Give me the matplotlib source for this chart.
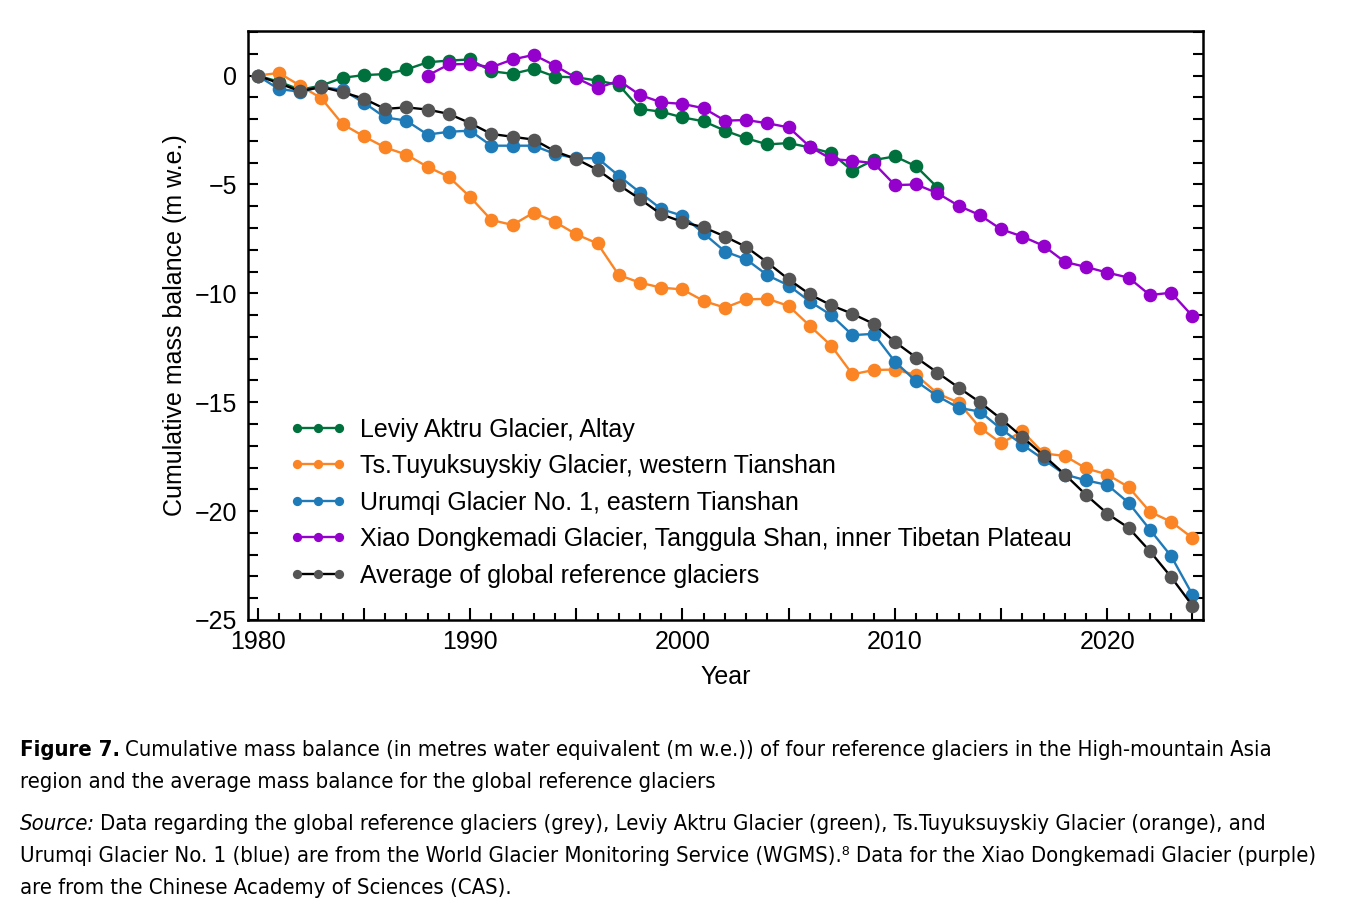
import matplotlib
matplotlib.use("Agg")
from matplotlib import pyplot as plt
from matplotlib.ticker import MultipleLocator, FuncFormatter

plt.rcParams['font.family'] = ['Liberation Sans', 'DejaVu Sans']

# cumulative mass balance, m w.e.
years_main = list(range(1980, 2025))
years_aktru = list(range(1980, 2013))
years_xiao = list(range(1988, 2025))

aktru = [0, -0.28, -0.65, -0.46, -0.1, 0.02, 0.07, 0.28, 0.61, 0.69, 0.74,
         0.2, 0.08, 0.31, -0.05, -0.08, -0.23, -0.43, -1.53, -1.66, -1.92,
         -2.1, -2.53, -2.88, -3.16, -3.1, -3.3, -3.56, -4.37, -3.88, -3.71,
         -4.17, -5.14]

tuyuksu = [0, 0.12, -0.46, -1.04, -2.23, -2.79, -3.3, -3.63, -4.19, -4.65,
           -5.57, -6.63, -6.86, -6.29, -6.72, -7.29, -7.71, -9.16, -9.51,
           -9.74, -9.82, -10.35, -10.66, -10.28, -10.25, -10.58, -11.5,
           -12.4, -13.72, -13.52, -13.5, -13.75, -14.6, -15.02, -16.17,
           -16.88, -16.33, -17.35, -17.47, -18.04, -18.32, -18.9, -20.03,
           -20.49, -21.23]

urumqi = [0, -0.62, -0.74, -0.52, -0.66, -1.24, -1.92, -2.07, -2.71, -2.58,
          -2.53, -3.22, -3.22, -3.22, -3.6, -3.8, -3.79, -4.6, -5.37, -6.13,
          -6.44, -7.25, -8.08, -8.44, -9.17, -9.64, -10.38, -11.0, -11.92,
          -11.86, -13.14, -14.04, -14.72, -15.26, -15.43, -16.23, -16.95,
          -17.63, -18.32, -18.59, -18.8, -19.62, -20.85, -22.07, -23.83]

xiao = [0.0, 0.51, 0.54, 0.38, 0.74, 0.95, 0.46, -0.11, -0.58, -0.23, -0.89,
        -1.23, -1.3, -1.5, -2.07, -2.04, -2.19, -2.38, -3.27, -3.83, -3.91,
        -4.02, -5.03, -5.0, -5.4, -5.98, -6.41, -7.06, -7.39, -7.82, -8.56,
        -8.79, -9.05, -9.28, -10.08, -9.97, -11.04]

average = [0, -0.35, -0.72, -0.52, -0.76, -1.06, -1.53, -1.46, -1.56, -1.76,
           -2.18, -2.68, -2.81, -2.94, -3.48, -3.83, -4.33, -5.02, -5.67,
           -6.37, -6.72, -6.97, -7.39, -7.87, -8.59, -9.36, -10.05, -10.55,
           -10.94, -11.4, -12.23, -12.95, -13.64, -14.33, -15.0, -15.77,
           -16.6, -17.45, -18.32, -19.26, -20.12, -20.77, -21.84, -23.03,
           -24.34]

labels = ['Leviy Aktru Glacier, Altay',
          'Ts.Tuyuksuyskiy Glacier, western Tianshan',
          'Urumqi Glacier No. 1, eastern Tianshan',
          'Xiao Dongkemadi Glacier, Tanggula Shan, inner Tibetan Plateau',
          'Average of global reference glaciers']

fig = plt.figure(figsize=(13.68, 9.10), dpi=100)
ax = fig.add_axes([0.1813, 0.3187, 0.6981, 0.6473])

kw = dict(lw=1.7, marker='o', ms=9.8, markeredgewidth=0)
ax.plot(years_aktru, aktru, color='#00703c', label=labels[0], **kw)
ax.plot(years_main, tuyuksu, color='#fb8424', label=labels[1], **kw)
ax.plot(years_main, urumqi, color='#1f7ab8', label=labels[2], **kw)
ax.plot(years_xiao, xiao, color='#9400cc', label=labels[3], **kw)
ax.plot(years_main, average, color='black', markerfacecolor='#555555',
        label=labels[4], **kw)

ax.set_xlim(1979.55, 2024.5)
ax.set_ylim(-25, 2.05)

ax.xaxis.set_major_locator(MultipleLocator(5))
ax.xaxis.set_minor_locator(MultipleLocator(1))
ax.xaxis.set_major_formatter(FuncFormatter(
    lambda v, p: '%d' % v if int(round(v)) % 10 == 0 else ''))
ax.yaxis.set_major_locator(MultipleLocator(5))
ax.yaxis.set_minor_locator(MultipleLocator(1))
ax.yaxis.set_major_formatter(FuncFormatter(
    lambda v, p: ('%d' % v).replace('-', '\u2212')))

ax.tick_params(axis='x', which='major', direction='in', length=9, width=1.5,
               labelsize=18, pad=7, top=False)
ax.tick_params(axis='x', which='minor', direction='in', length=5, width=1.5,
               top=False)
ax.tick_params(axis='y', which='both', direction='in', length=7, width=1.5,
               labelsize=18, right=True, pad=8)
for s in ax.spines.values():
    s.set_linewidth(1.8)

ax.set_xlabel('Year', fontsize=18, labelpad=8)
ax.set_ylabel('Cumulative mass balance (m w.e.)', fontsize=18, labelpad=5)

leg = ax.legend(loc='lower left', bbox_to_anchor=(0.022, 0.021), frameon=False,
                fontsize=18, numpoints=3, markerscale=0.68, handlelength=2.3,
                handletextpad=0.55, labelspacing=0.5, borderpad=0.3)

# caption
cap = dict(fontsize=15.8, family=['Liberation Sans Narrow', 'DejaVu Sans'],
           fontstretch='condensed', va='center')
renderer = fig.canvas.get_renderer()


def two_part(y, first, rest, **style):
    t = fig.text(20 / 1368, y, first, **cap, **style)
    bb = t.get_window_extent(renderer)
    fig.text((bb.x1 + 5) / 1368, y, rest, **cap)


two_part(1 - 750 / 910, 'Figure 7.',
         'Cumulative mass balance (in metres water equivalent (m w.e.)) of four reference glaciers in the High-mountain Asia',
         fontweight='bold')
fig.text(20 / 1368, 1 - 782 / 910,
         'region and the average mass balance for the global reference glaciers', **cap)
two_part(1 - 824 / 910, 'Source:',
         'Data regarding the global reference glaciers (grey), Leviy Aktru Glacier (green), Ts.Tuyuksuyskiy Glacier (orange), and',
         fontstyle='italic')
fig.text(20 / 1368, 1 - 856 / 910,
         'Urumqi Glacier No. 1 (blue) are from the World Glacier Monitoring Service (WGMS).\u2078 Data for the Xiao Dongkemadi Glacier (purple)',
         **cap)
fig.text(20 / 1368, 1 - 888 / 910,
         'are from the Chinese Academy of Sciences (CAS).', **cap)

fig.savefig('out.png', dpi=100)
